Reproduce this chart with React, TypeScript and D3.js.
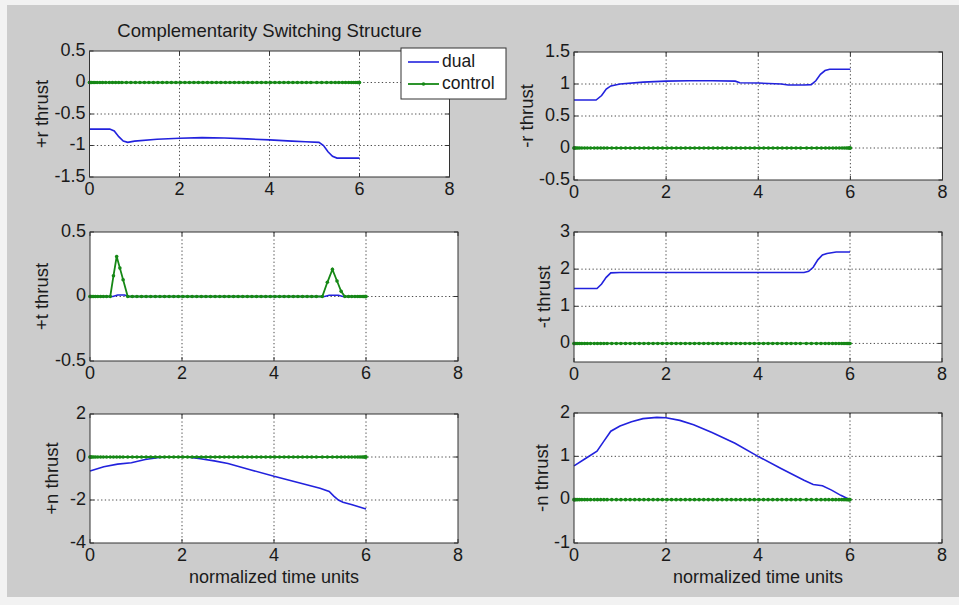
import React from 'react';
import * as d3 from 'd3';

// ---------- data ----------
const xTicks = [0, 2, 4, 6, 8];
const xDomain: [number, number] = [0, 8];

// collocation times used by the control series (dense near ends)
const tNodes = [
  0, 0.005, 0.02, 0.045, 0.08, 0.12, 0.17, 0.23, 0.29, 0.36, 0.44, 0.51, 0.58, 0.65, 0.72, 0.82, 0.92,
  1.02, 1.12, 1.22, 1.32, 1.42, 1.52, 1.62, 1.72, 1.82, 1.92,
  2.02, 2.12, 2.22, 2.32, 2.42, 2.52, 2.62, 2.72, 2.82, 2.92,
  3.02, 3.12, 3.22, 3.32, 3.42, 3.52, 3.62, 3.72, 3.82, 3.92,
  4.02, 4.12, 4.22, 4.32, 4.42, 4.52, 4.62, 4.72, 4.82, 4.92,
  5.05, 5.16, 5.27, 5.37, 5.46, 5.54, 5.62, 5.69, 5.76, 5.82, 5.87, 5.915, 5.95, 5.975, 5.99, 6,
];

const controlPlusT = [
  0, 0, 0, 0, 0, 0, 0, 0, 0, 0, 0, 0.16, 0.31, 0.22, 0.13, 0, 0,
  0, 0, 0, 0, 0, 0, 0, 0, 0, 0,
  0, 0, 0, 0, 0, 0, 0, 0, 0, 0,
  0, 0, 0, 0, 0, 0, 0, 0, 0, 0,
  0, 0, 0, 0, 0, 0, 0, 0, 0, 0,
  0, 0.11, 0.21, 0.12, 0.04, 0, 0, 0, 0, 0, 0, 0, 0, 0, 0, 0,
];
const controlZero = tNodes.map(() => 0);

// dual series (time, value)
const dualPlusR_t = [0, 0.45, 0.55, 0.65, 0.75, 0.85, 1.0, 1.5, 2.0, 2.5, 3.0, 3.5, 4.0, 4.5, 4.8, 5.1, 5.2, 5.3, 5.4, 5.5, 6.0];
const dualPlusR_v = [-0.74, -0.74, -0.77, -0.86, -0.93, -0.95, -0.93, -0.9, -0.885, -0.875, -0.88, -0.895, -0.91, -0.93, -0.94, -0.95, -1.0, -1.1, -1.17, -1.2, -1.2];

const dualMinusR_t = [0, 0.48, 0.6, 0.7, 0.8, 1.0, 1.5, 2.0, 2.5, 3.0, 3.5, 3.6, 4.0, 4.5, 4.65, 5.0, 5.15, 5.25, 5.35, 5.45, 5.55, 6.0];
const dualMinusR_v = [0.75, 0.75, 0.82, 0.92, 0.97, 1.0, 1.03, 1.045, 1.05, 1.05, 1.045, 1.02, 1.015, 1.0, 0.985, 0.985, 0.99, 1.05, 1.15, 1.21, 1.23, 1.23];

const dualPlusT_t = [0, 0.5, 0.6, 0.75, 0.85, 2.0, 4.0, 5.1, 5.2, 5.4, 5.5, 6.0];
const dualPlusT_v = [0, 0, 0.012, 0.012, 0, 0, 0, 0, 0.01, 0.01, 0, 0];

const dualMinusT_t = [0, 0.5, 0.6, 0.7, 0.8, 1.0, 2.0, 3.0, 4.0, 5.0, 5.1, 5.2, 5.3, 5.4, 5.5, 5.7, 6.0];
const dualMinusT_v = [1.48, 1.48, 1.6, 1.78, 1.9, 1.91, 1.91, 1.91, 1.91, 1.91, 1.94, 2.05, 2.25, 2.38, 2.42, 2.46, 2.46];

const dualPlusN_t = [0, 0.3, 0.6, 0.9, 1.2, 1.5, 1.8, 2.1, 2.4, 2.7, 3.0, 3.5, 4.0, 4.5, 5.0, 5.2, 5.3, 5.4, 5.5, 5.7, 6.0];
const dualPlusN_v = [-0.65, -0.45, -0.33, -0.27, -0.12, -0.02, 0, 0, -0.08, -0.18, -0.3, -0.6, -0.9, -1.17, -1.45, -1.6, -1.82, -2.0, -2.1, -2.22, -2.42];

const dualMinusN_t = [0, 0.25, 0.5, 0.65, 0.8, 1.0, 1.25, 1.5, 1.8, 2.0, 2.3, 2.6, 3.0, 3.5, 4.0, 4.5, 5.0, 5.2, 5.4, 5.6, 5.8, 6.0];
const dualMinusN_v = [0.78, 0.95, 1.12, 1.35, 1.58, 1.7, 1.8, 1.87, 1.9, 1.89, 1.83, 1.73, 1.55, 1.3, 1.0, 0.72, 0.45, 0.35, 0.32, 0.22, 0.1, 0.0];

const yTicksPlusR = [-1.5, -1, -0.5, 0, 0.5];
const yTicksMinusR = [-0.5, 0, 0.5, 1, 1.5];
const yTicksPlusT = [-0.5, 0, 0.5];
const yTicksMinusT = [0, 1, 2, 3];
const yTicksPlusN = [-4, -2, 0, 2];
const yTicksMinusN = [-1, 0, 1, 2];

const titleText = 'Complementarity Switching Structure';
const xLabelText = 'normalized time units';
const legendLabels = ['dual', 'control'];

// ---------- layout / style ----------
const FONT = "'Liberation Sans', Arial, Helvetica, sans-serif";
const BLUE = '#2222dd';
const GREEN = '#168816';
const GRID = '#4a4a4a';
const AXIS = '#333333';

type PanelSpec = {
  box: { x0: number; x1: number; y0: number; y1: number };
  yDomain: [number, number];
  yTicks: number[];
  yLabel: string;
  yLabelX: number;
  dualT: number[];
  dualV: number[];
  control: number[];
  xLabel: boolean;
};

const panels: PanelSpec[] = [
  { box: { x0: 89.5, x1: 449.5, y0: 51, y1: 177 }, yDomain: [-1.5, 0.5], yTicks: yTicksPlusR, yLabel: '+r thrust', yLabelX: 43, dualT: dualPlusR_t, dualV: dualPlusR_v, control: controlZero, xLabel: false },
  { box: { x0: 574, x1: 942.5, y0: 52, y1: 180 }, yDomain: [-0.5, 1.5], yTicks: yTicksMinusR, yLabel: '-r thrust', yLabelX: 528, dualT: dualMinusR_t, dualV: dualMinusR_v, control: controlZero, xLabel: false },
  { box: { x0: 90, x1: 458, y0: 232, y1: 361 }, yDomain: [-0.5, 0.5], yTicks: yTicksPlusT, yLabel: '+t thrust', yLabelX: 43, dualT: dualPlusT_t, dualV: dualPlusT_v, control: controlPlusT, xLabel: false },
  { box: { x0: 574, x1: 942, y0: 232, y1: 362 }, yDomain: [-0.5, 3], yTicks: yTicksMinusT, yLabel: '-t thrust', yLabelX: 545, dualT: dualMinusT_t, dualV: dualMinusT_v, control: controlZero, xLabel: false },
  { box: { x0: 90, x1: 458, y0: 414, y1: 543 }, yDomain: [-4, 2], yTicks: yTicksPlusN, yLabel: '+n thrust', yLabelX: 53, dualT: dualPlusN_t, dualV: dualPlusN_v, control: controlZero, xLabel: true },
  { box: { x0: 574, x1: 942, y0: 413, y1: 543 }, yDomain: [-1, 2], yTicks: yTicksMinusN, yLabel: '-n thrust', yLabelX: 543, dualT: dualMinusN_t, dualV: dualMinusN_v, control: controlZero, xLabel: true },
];

function Panel({ p }: { p: PanelSpec }) {
  const { x0, x1, y0, y1 } = p.box;
  const x = d3.scaleLinear().domain(xDomain).range([x0, x1]);
  const y = d3.scaleLinear().domain(p.yDomain).range([y1, y0]);
  const line = d3.line<[number, number]>().x((d) => x(d[0])).y((d) => y(d[1]));
  const dualPts: [number, number][] = p.dualT.map((t, i) => [t, p.dualV[i]]);
  const ctrlPts: [number, number][] = tNodes.map((t, i) => [t, p.control[i]]);
  const tickLen = 4;
  const fmt = (v: number) => String(v);
  return (
    <g>
      <rect x={x0} y={y0} width={x1 - x0} height={y1 - y0} fill="#ffffff" />
      {xTicks.filter((t) => t > xDomain[0] && t < xDomain[1]).map((t) => (
        <line key={'gx' + t} x1={x(t)} x2={x(t)} y1={y0} y2={y1} stroke={GRID} strokeWidth={1} strokeDasharray="1.3 2.4" />
      ))}
      {p.yTicks.filter((t) => t > p.yDomain[0] && t < p.yDomain[1]).map((t) => (
        <line key={'gy' + t} x1={x0} x2={x1} y1={y(t)} y2={y(t)} stroke={GRID} strokeWidth={1} strokeDasharray="1.3 2.4" />
      ))}
      {xTicks.map((t) => (
        <g key={'tx' + t}>
          <line x1={x(t)} x2={x(t)} y1={y1} y2={y1 - tickLen} stroke={AXIS} />
          <line x1={x(t)} x2={x(t)} y1={y0} y2={y0 + tickLen} stroke={AXIS} />
          <text x={x(t)} y={y1 + 13} textAnchor="middle" dominantBaseline="middle" fontSize={18} fontFamily={FONT} fill="#1a1a1a">{fmt(t)}</text>
        </g>
      ))}
      {p.yTicks.map((t) => (
        <g key={'ty' + t}>
          <line x1={x0} x2={x0 + tickLen} y1={y(t)} y2={y(t)} stroke={AXIS} />
          <line x1={x1} x2={x1 - tickLen} y1={y(t)} y2={y(t)} stroke={AXIS} />
          <text x={x0 - 4} y={y(t)} textAnchor="end" dominantBaseline="middle" fontSize={18} fontFamily={FONT} fill="#1a1a1a">{fmt(t)}</text>
        </g>
      ))}
      <path d={line(dualPts) || ''} fill="none" stroke={BLUE} strokeWidth={1.6} />
      <path d={line(ctrlPts) || ''} fill="none" stroke={GREEN} strokeWidth={1.8} />
      {ctrlPts.map((d, i) => (
        <circle key={'c' + i} cx={x(d[0])} cy={y(d[1])} r={1.8} fill={GREEN} />
      ))}
      <rect x={x0} y={y0} width={x1 - x0} height={y1 - y0} fill="none" stroke={AXIS} strokeWidth={1} />
      <text transform={`translate(${p.yLabelX},${(y0 + y1) / 2}) rotate(-90)`} textAnchor="middle" dominantBaseline="middle" fontSize={18.5} fontFamily={FONT} fill="#1a1a1a">{p.yLabel}</text>
      {p.xLabel && (
        <text x={(x0 + x1) / 2} y={578} textAnchor="middle" dominantBaseline="middle" fontSize={18} fontFamily={FONT} fill="#1a1a1a">{xLabelText}</text>
      )}
    </g>
  );
}

export default function App() {
  const first = panels[0].box;
  const lg = { x: 401, y: 48, w: 105, h: 51 };
  return (
    <svg width={959} height={605} style={{ position: 'absolute', left: 0, top: 0 }}>
      <rect x={0} y={0} width={959} height={605} fill="#f2f2f2" />
      <rect x={7} y={5} width={952} height={592} fill="#cccccc" />
      <text x={(first.x0 + first.x1) / 2} y={32} textAnchor="middle" dominantBaseline="middle" fontSize={18.5} fontFamily={FONT} fill="#1a1a1a">{titleText}</text>
      {panels.map((p, i) => (
        <Panel key={i} p={p} />
      ))}
      <g>
        <rect x={lg.x} y={lg.y} width={lg.w} height={lg.h} fill="#ffffff" stroke={AXIS} strokeWidth={1} />
        <line x1={lg.x + 7} x2={lg.x + 38} y1={lg.y + 14} y2={lg.y + 14} stroke={BLUE} strokeWidth={1.6} />
        <text x={lg.x + 41} y={lg.y + 14} dominantBaseline="middle" fontSize={17.5} fontFamily={FONT} fill="#1a1a1a">{legendLabels[0]}</text>
        <line x1={lg.x + 7} x2={lg.x + 38} y1={lg.y + 36} y2={lg.y + 36} stroke={GREEN} strokeWidth={1.8} />
        <circle cx={lg.x + 22.5} cy={lg.y + 36} r={1.8} fill={GREEN} />
        <text x={lg.x + 41} y={lg.y + 36} dominantBaseline="middle" fontSize={17.5} fontFamily={FONT} fill="#1a1a1a">{legendLabels[1]}</text>
      </g>
    </svg>
  );
}
